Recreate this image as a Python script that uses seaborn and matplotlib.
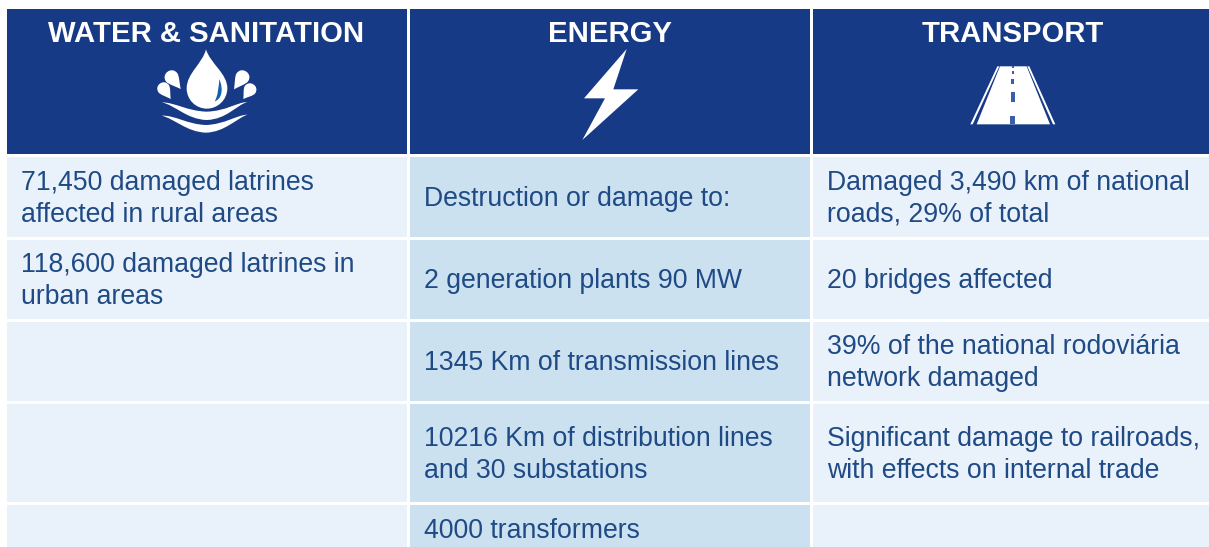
import numpy as np
import matplotlib
matplotlib.use('Agg')
import matplotlib.pyplot as plt
import seaborn as sns
from matplotlib.colors import ListedColormap
from matplotlib.patches import PathPatch, Polygon
from matplotlib.path import Path

# table content
headers = ['WATER & SANITATION', 'ENERGY', 'TRANSPORT']
water = ['71,450 damaged latrines\naffected in rural areas',
         '118,600 damaged latrines in\nurban areas', '', '', '']
energy = ['Destruction or damage to:', '2 generation plants 90 MW',
          '1345 Km of transmission lines',
          '10216 Km of distribution lines\nand 30 substations', '4000 transformers']
transport = ['Damaged 3,490 km of national\nroads, 29% of total', '20 bridges affected',
             '39% of the national rodoviária\nnetwork damaged',
             'Significant damage to railroads,\nwith effects on internal trade', '']
# shade of each column: 0 header, 1 light, 2 mid
row_shades = [1, 2, 1]

W, H = 1209, 547
navy = '#173A87'
text_col = '#1F4A85'
shades = ListedColormap([navy, '#E9F2FA', '#CBE1F0'])
row_edges = [6.5, 155, 237.8, 319.6, 401.6, 503.2, 600]
col_left, col_right = 5.0, 1214.0
col_text_x = [20.8, 423.5, 827]
text_y = [199, 281, 363, 455, 531]

sns.set_theme(style='white')
plt.rcParams['font.family'] = ['Liberation Sans', 'DejaVu Sans']

fig = plt.figure(figsize=(W / 100, H / 100), dpi=100)

# one heatmap strip for each table row, the rows have different heights
for i in range(6):
    y0, y1 = row_edges[i], row_edges[i + 1]
    ax = fig.add_axes([col_left / W, 1 - y1 / H, (col_right - col_left) / W, (y1 - y0) / H])
    vals = np.array([[0, 0, 0]]) if i == 0 else np.array([row_shades])
    sns.heatmap(vals, ax=ax, cmap=shades, vmin=0, vmax=2, cbar=False, linewidths=2.16,
                linecolor='white', xticklabels=False, yticklabels=False)

# overlay in pixel coordinates for text and icons
ov = fig.add_axes([0, 0, 1, 1], facecolor='none')
ov.set_xlim(0, W)
ov.set_ylim(H, 0)
ov.axis('off')

for x, name in zip([206.5, 610, 1013], headers):
    ov.text(x, 34, name, color='white', fontsize=21.05, fontweight='bold', ha='center', va='center')

for x, col in zip(col_text_x, [water, energy, transport]):
    for y, label in zip(text_y, col):
        if label:
            ov.text(x, y, label, color=text_col, fontsize=19.15, ha='left', va='center', linespacing=1.27)


def blob(points, ox, oy, color='white'):
    pts = [(ox + a / 3, oy + b / 3) for a, b in points]
    codes = [Path.MOVETO] + [Path.CURVE4] * (len(pts) - 1)
    ov.add_patch(PathPatch(Path(pts, codes), fc=color, ec='none'))


# water drop
blob([(228, 28), (240, 70), (292, 100), (292, 145), (292, 180), (262, 206), (231, 206),
      (198, 206), (170, 180), (170, 145), (170, 100), (218, 70), (228, 28)], 130, 40)
blob([(268, 118), (282, 150), (274, 178), (254, 184), (264, 168), (266, 140), (268, 118)],
     130, 40, color='#0F62AC')


def splash(cx, cy, r, tx, ty):
    dx, dy = tx - cx, ty - cy
    d = np.hypot(dx, dy)
    nx, ny = -dy / d * r, dx / d * r
    ux, uy = dx / d * r, dy / d * r
    ax1, ay1 = cx + nx, cy + ny
    ax2, ay2 = cx - nx, cy - ny
    blob([(tx, ty), (tx + (ax1 - tx) * 0.35, ty + (ay1 - ty) * 0.35), (ax1 + ux * 0.5, ay1 + uy * 0.5), (ax1, ay1),
          (ax1 - ux * 1.33, ay1 - uy * 1.33), (ax2 - ux * 1.33, ay2 - uy * 1.33), (ax2, ay2),
          (ax2 + ux * 0.5, ay2 + uy * 0.5), (tx + (ax2 - tx) * 0.35, ty + (ay2 - ty) * 0.35), (tx, ty)], 130, 40)


splash(125, 112, 21, 152, 147)
splash(101, 146, 19, 122, 177)
splash(337, 112, 21, 312, 148)
splash(360, 149, 19, 340, 177)

# waves
blob([(95, 187), (135, 187), (170, 213), (230, 215), (290, 213), (320, 187), (352, 186),
      (320, 195), (290, 238), (230, 240), (170, 238), (135, 195), (95, 187)], 130, 40)
blob([(95, 227), (135, 225), (170, 253), (228, 255), (285, 253), (320, 225), (352, 224),
      (320, 235), (285, 276), (228, 278), (170, 276), (135, 237), (95, 227)], 130, 40)

# lightning
bolt = [(200, 27), (160, 148), (235, 148), (67, 300), (135, 175), (72, 175)]
ov.add_patch(Polygon([(560 + a / 3, 40 + b / 3) for a, b in bolt], fc='white', ec='none'))

# road
road = [[(120, 34), (200, 34), (270, 208), (50, 208)],
        [(112, 34), (118, 34), (38, 208), (31, 208)],
        [(202, 34), (208, 34), (286, 208), (279, 208)]]
for part in road:
    ov.add_patch(Polygon([(960 + a / 3, 55 + b / 3) for a, b in part], fc='white', ec='none'))
dashes = [(34, 38, 5), (47, 57, 7), (72, 88, 10), (110, 140, 12), (182, 208, 16)]
for top, bot, wid in dashes:
    ov.add_patch(Polygon([(960 + (158 + s * wid / 2) / 3, 55 + yy / 3)
                          for s, yy in [(-1, top), (1, top), (1, bot), (-1, bot)]], fc='#3A5FA8', ec='none'))

fig.savefig('out.png', dpi=100)
